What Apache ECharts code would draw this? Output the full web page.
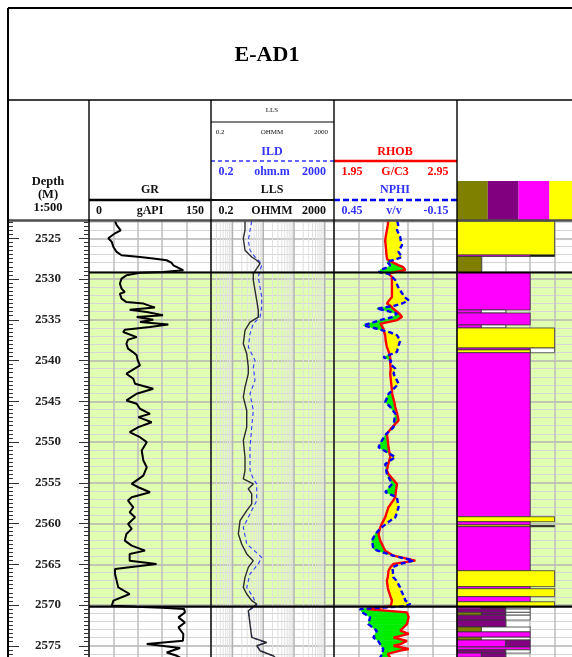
<!DOCTYPE html>
<html>
<head>
<meta charset="utf-8">
<script src="https://cdn.jsdelivr.net/npm/echarts/dist/echarts.min.js"></script>
<style>
html,body{margin:0;padding:0;background:#fff}
#chart{width:572px;height:657px}
</style>
</head>
<body>
<div id="chart"></div>
<script>
// ---- well and depth frame ----
const wellName = 'E-AD1';
const depthRange = [2520, 2580];
const depthStep = 5;
const zoneTop = 2529.2;
const zoneBase = 2570.2;

// ---- gamma ray (gAPI) ----
const grScale = [0, 150];
const grDepth = [
  2522.9, 2523.4, 2524.02, 2524.39, 2525.0, 2525.45, 2526.07, 2526.68, 2527.09, 2527.3,
  2527.49, 2527.7, 2528.03, 2528.32, 2528.72, 2528.93, 2529.14, 2529.24, 2529.55, 2529.95,
  2530.57, 2531.18, 2531.6, 2531.79, 2532.41, 2532.83, 2533.02, 2533.51, 2533.76, 2534.05,
  2534.46, 2534.67, 2534.99, 2535.28, 2535.57, 2535.9, 2536.22, 2536.51, 2537.13, 2537.44,
  2537.94, 2538.55, 2538.97, 2539.37, 2539.99, 2540.6, 2541.62, 2542.24, 2542.85, 2543.46,
  2544.08, 2544.9, 2545.31, 2545.92, 2546.54, 2546.95, 2547.57, 2548.18, 2548.8, 2549.41,
  2550.02, 2551.04, 2552.27, 2553.1, 2554.12, 2555.14, 2555.55, 2556.17, 2556.78, 2557.19,
  2558.01, 2558.62, 2559.24, 2560.05, 2560.66, 2561.28, 2562.1, 2562.71, 2563.33, 2563.73,
  2564.56, 2564.96, 2565.58, 2566.19, 2567.01, 2567.84, 2568.65, 2569.47, 2570.09, 2570.21,
  2570.33, 2570.49, 2570.91, 2571.52, 2572.14, 2572.75, 2573.56, 2574.38, 2574.79, 2575.0,
  2575.28, 2575.82, 2576.23, 2576.47
];
const grValue = [
  32, 34, 39, 32, 23.7, 28, 30, 34, 40, 62.7,
  79, 95.5, 101.7, 103.7, 112, 116, 91, 62.7, 46, 40,
  38, 40, 44, 38, 40, 46, 67, 81, 50, 71,
  91, 58.6, 79, 62.7, 97.5, 75, 44, 42, 58.6, 48,
  46, 48, 54, 58.6, 60, 62.7, 46, 54.5, 56.6, 79,
  58.6, 46, 58.6, 62.7, 75, 60.7, 77, 60.7, 50, 62.7,
  71, 64.8, 66.8, 71, 66.8, 52.5, 60.7, 75, 52.5, 48,
  54.5, 50, 56.6, 48, 52.5, 46, 44, 52.5, 68.9, 50,
  50, 83, 32, 32, 34, 36, 50, 30, 28, 58,
  90, 117, 118, 110, 118, 110, 116, 115.5, 71, 72.5,
  112, 95.5, 108, 112
];

// ---- resistivity (ohm.m) ----
const resScale = [0.2, 2000];
const llsDepth = [
  2522.9, 2524.02, 2525.0, 2526.47, 2527.3, 2527.7, 2528.11, 2528.72, 2529.34, 2530.16,
  2531.39, 2532.62, 2533.85, 2534.67, 2535.28, 2536.3, 2537.94, 2539.16, 2540.81, 2541.62,
  2543.27, 2544.5, 2546.13, 2548.18, 2549.82, 2551.87, 2553.5, 2554.52, 2555.14, 2555.75,
  2556.36, 2557.59, 2558.42, 2559.64, 2561.28, 2562.51, 2563.73, 2564.56, 2565.38, 2566.61,
  2567.84, 2568.65, 2569.47, 2569.88, 2570.09, 2570.7, 2572.33, 2573.98, 2574.6, 2575.0,
  2575.61, 2576.23, 2576.47
];
const llsValue = [
  2.55, 2.55, 2.25, 2.55, 4.22, 6.13, 7.84, 6.13, 4.75, 4.75,
  5.4, 6.13, 6.9, 6.9, 3.71, 2.55, 2.25, 2.9, 3.27, 3.27,
  2.55, 2.25, 2.9, 2.9, 2.25, 2.55, 2.55, 2.25, 4.75, 3.27,
  4.22, 4.22, 2.9, 1.76, 1.55, 1.99, 2.9, 4.75, 3.27, 2.55,
  2.25, 2.9, 4.22, 6.13, 6.9, 3.27, 3.71, 4.22, 12.95, 6.13,
  7.84, 21.2, 25
];
const ildDepth = [
  2522.9, 2524.02, 2525.25, 2526.47, 2527.3, 2527.91, 2528.32, 2528.93, 2529.75, 2530.98,
  2532.21, 2533.44, 2534.67, 2535.48, 2536.71, 2538.35, 2539.99, 2540.81, 2542.44, 2544.08,
  2546.13, 2548.18, 2550.64, 2553.5, 2554.52, 2555.14, 2557.19, 2558.82, 2560.47, 2562.51,
  2564.15, 2564.96, 2566.19, 2567.84, 2569.07, 2570.09, 2570.7, 2572.33, 2573.98, 2574.6,
  2575.0, 2575.61, 2576.23, 2576.47
];
const ildValue = [
  4.22, 3.71, 3.27, 3.71, 5.4, 7.84, 8.91, 7.84, 6.9, 7.84,
  8.91, 8.91, 7.84, 4.75, 3.71, 3.27, 5.4, 4.75, 5.4, 3.71,
  4.75, 4.22, 3.71, 3.71, 4.75, 6.13, 6.13, 3.71, 2.25, 2.9,
  8.91, 6.9, 3.71, 2.9, 4.75, 6.13, 3.27, 3.71, 4.3, 11.5,
  6.3, 8.1, 20, 24
];

// ---- density / neutron ----
const rhobScale = [1.95, 2.95];
const nphiScale = [0.45, -0.15];
const denDepth = [
  2522.9, 2523.4, 2524.0, 2524.85, 2525.35, 2525.85, 2526.45, 2526.7, 2527.3, 2527.6,
  2527.9, 2528.3, 2528.55, 2528.9, 2529.15, 2529.35, 2529.75, 2530.15, 2531.0, 2531.4,
  2532.2, 2532.6, 2533.0, 2533.25, 2533.65, 2533.85, 2534.25, 2534.65, 2534.85, 2535.05,
  2535.5, 2535.7, 2536.1, 2536.55, 2536.9, 2537.55, 2538.35, 2538.95, 2539.6, 2540.0,
  2540.4, 2541.0, 2541.6, 2542.85, 2543.65, 2544.1, 2545.1, 2545.7, 2546.55, 2547.35,
  2548.2, 2549.0, 2549.8, 2550.65, 2551.85, 2552.7, 2553.5, 2553.9, 2555.15, 2556.15,
  2556.8, 2558.0, 2559.25, 2559.65, 2560.45, 2561.3, 2562.1, 2563.1, 2563.35, 2563.95,
  2564.55, 2564.95, 2565.4, 2565.8, 2566.6, 2567.0, 2567.85, 2568.25, 2569.05, 2569.45,
  2569.9, 2570.15, 2570.5, 2570.9, 2571.5, 2572.35, 2573.15, 2573.55, 2574.0, 2574.4,
  2574.8, 2575.0, 2575.4, 2575.6, 2576.0, 2576.45
];
const rhobValue = [
  2.391, 2.387, 2.380, 2.370, 2.366, 2.370, 2.374, 2.374, 2.379, 2.383,
  2.421, 2.472, 2.513, 2.530, 2.448, 2.391, 2.421, 2.421, 2.421, 2.421,
  2.421, 2.399, 2.380, 2.407, 2.432, 2.448, 2.481, 2.503, 2.481, 2.462,
  2.326, 2.334, 2.352, 2.358, 2.366, 2.370, 2.380, 2.395, 2.407, 2.407,
  2.407, 2.411, 2.407, 2.415, 2.421, 2.423, 2.440, 2.448, 2.464, 2.475,
  2.423, 2.380, 2.387, 2.393, 2.407, 2.391, 2.380, 2.391, 2.462, 2.452,
  2.448, 2.393, 2.366, 2.352, 2.326, 2.312, 2.326, 2.358, 2.366, 2.434,
  2.611, 2.434, 2.407, 2.393, 2.387, 2.380, 2.387, 2.393, 2.411, 2.421,
  2.415, 2.407, 2.217, 2.543, 2.557, 2.543, 2.489, 2.557, 2.434, 2.543,
  2.489, 2.434, 2.557, 2.489, 2.387, 2.407
];
const nphiValue = [
  0.141, 0.137, 0.143, 0.127, 0.124, 0.118, 0.132, 0.135, 0.118, 0.151,
  0.192, 0.176, 0.186, 0.225, 0.230, 0.184, 0.166, 0.151, 0.137, 0.127,
  0.107, 0.086, 0.117, 0.151, 0.241, 0.200, 0.143, 0.161, 0.167, 0.225,
  0.283, 0.306, 0.241, 0.176, 0.143, 0.127, 0.137, 0.143, 0.209, 0.171,
  0.176, 0.151, 0.160, 0.135, 0.166, 0.184, 0.200, 0.176, 0.151, 0.156,
  0.160, 0.195, 0.216, 0.233, 0.151, 0.200, 0.195, 0.192, 0.167, 0.200,
  0.143, 0.135, 0.151, 0.176, 0.216, 0.249, 0.265, 0.258, 0.235, 0.161,
  0.062, 0.127, 0.167, 0.163, 0.161, 0.146, 0.127, 0.122, 0.107, 0.102,
  0.078, 0.102, 0.323, 0.313, 0.274, 0.283, 0.241, 0.249, 0.258, 0.235,
  0.225, 0.220, 0.210, 0.209, 0.215, 0.225
];

// ---- lithology column (volume fractions, 0..1 across the track) ----
const lithNames = ['olive', 'purple', 'magenta', 'yellow', 'black', 'white'];
const lithColors = ['#808000', '#800080', '#ff00ff', '#ffff00', '#000000', '#ffffff'];
const lithTop = [
  2522.88, 2527.06, 2527.06, 2527.24, 2529.2, 2533.8, 2533.8, 2534.17, 2535.64, 2535.64,
  2536.01, 2538.47, 2538.47, 2538.7, 2539.05, 2559.17, 2559.78, 2560.18, 2560.25, 2560.39,
  2565.79, 2567.75, 2568.0, 2568.98, 2569.6, 2570.2, 2570.2, 2570.2, 2570.5, 2570.5,
  2570.9, 2570.9, 2570.9, 2571.25, 2571.25, 2571.85, 2572.7, 2572.7, 2573.3, 2573.95,
  2573.95, 2574.3, 2574.3, 2575.15, 2575.5, 2575.5, 2575.9, 2575.9
];
const lithBase = [
  2527.06, 2527.24, 2527.24, 2529.2, 2533.8, 2534.17, 2534.17, 2535.64, 2536.01, 2536.01,
  2538.47, 2538.7, 2539.05, 2539.05, 2559.17, 2559.78, 2560.18, 2560.39, 2560.4, 2565.79,
  2567.75, 2568.0, 2568.98, 2569.6, 2570.2, 2570.5, 2570.5, 2570.5, 2570.9, 2570.9,
  2571.25, 2571.25, 2571.25, 2571.85, 2571.85, 2572.7, 2573.3, 2573.3, 2573.95, 2574.3,
  2574.3, 2575.15, 2575.15, 2575.5, 2575.9, 2575.9, 2576.4, 2576.4
];
const lithFrom = [
  0, 0, 0.6, 0, 0, 0, 0.2, 0, 0, 0.2,
  0, 0, 0.6, 0, 0, 0, 0, 0, 0.6, 0,
  0, 0, 0, 0, 0, 0, 0.2, 0.4, 0, 0.4,
  0, 0.2, 0.4, 0, 0.4, 0, 0, 0.2, 0, 0,
  0.2, 0, 0.4, 0, 0, 0.4, 0, 0.2
];
const lithTo = [
  0.8, 0.6, 0.8, 0.2, 0.6, 0.2, 0.4, 0.6, 0.2, 0.4,
  0.8, 0.6, 0.8, 0.6, 0.6, 0.8, 0.6, 0.6, 0.8, 0.6,
  0.8, 0.6, 0.8, 0.6, 0.8, 0.2, 0.4, 0.6, 0.4, 0.6,
  0.2, 0.4, 0.6, 0.4, 0.6, 0.4, 0.2, 0.6, 0.6, 0.2,
  0.6, 0.4, 0.6, 0.6, 0.4, 0.6, 0.2, 0.4
];
const lithKind = [
  3, 2, 4, 0, 2, 2, 5, 2, 2, 5,
  3, 2, 5, 3, 2, 3, 2, 3, 4, 2,
  3, 2, 3, 2, 3, 2, 1, 5, 1, 5,
  0, 1, 5, 1, 5, 1, 0, 5, 2, 0,
  5, 2, 1, 2, 1, 5, 2, 1
];

// ---- layout ----
const FONT = "'Liberation Serif','Times New Roman',serif";
const plotTop = 197.5, plotHeight = 489;
const trackLeft = [8, 89, 211, 334, 457];
const trackWidth = [81, 122, 123, 123, 122];
const zoneColor = '#e1ffb1';
const sandFill = '#ffff00';
const shaleFill = '#00ee00';

const chart = echarts.init(document.getElementById('chart'));

const hidden = { axisLine: { show: false }, axisTick: { show: false }, axisLabel: { show: false } };

function depthAxis(grid, extra) {
  return Object.assign({
    type: 'value', gridIndex: grid, inverse: true,
    min: depthRange[0], max: depthRange[1], interval: depthStep, z: 2,
    axisLine: { show: false }, axisTick: { show: false }, axisLabel: { show: false },
    splitLine: { show: true, lineStyle: { color: '#b3b3b3', width: 1.5 } },
    minorTick: { show: false, splitNumber: 5 },
    minorSplitLine: { show: true, lineStyle: { color: '#d6d6d6', width: 1 } }
  }, extra || {});
}

// Track fill between the zone boundaries
function zoneFillSeries(xi, yi, xRef) {
  return {
    type: 'custom', xAxisIndex: xi, yAxisIndex: yi, z: 1, silent: true,
    data: [[xRef, zoneTop, zoneBase]], encode: { x: 0, y: [1, 2] },
    renderItem: function (params, api) {
      const cs = params.coordSys;
      const y0 = api.coord([api.value(0), api.value(1)])[1];
      const y1 = api.coord([api.value(0), api.value(2)])[1];
      return { type: 'rect', shape: { x: cs.x, y: y0, width: cs.width, height: y1 - y0 }, style: { fill: zoneColor } };
    }
  };
}
function zoneEdgeSeries(xi, yi, xRef) {
  return {
    type: 'custom', xAxisIndex: xi, yAxisIndex: yi, z: 6, silent: true,
    data: [[xRef, zoneTop, zoneBase]], encode: { x: 0, y: [1, 2] },
    renderItem: function (params, api) {
      const cs = params.coordSys;
      const kids = [1, 2].map(function (k) {
        const y = api.coord([api.value(0), api.value(k)])[1];
        return { type: 'line', shape: { x1: cs.x, y1: y, x2: cs.x + cs.width, y2: y }, style: { stroke: '#000', lineWidth: 2.2 } };
      });
      return { type: 'group', children: kids };
    }
  };
}

// Logarithmic paper for the resistivity track
const logLines = [];
[0.1, 1, 10, 100, 1000].forEach(function (dec) {
  for (let k = 1; k <= 9; k++) {
    const v = +(dec * k).toPrecision(3);
    if (v > resScale[0] && v < resScale[1]) logLines.push(v);
  }
});
const resGridSeries = {
  type: 'custom', xAxisIndex: 2, yAxisIndex: 3, z: 2, silent: true,
  data: [[1, 2550]],
  renderItem: function (params, api) {
    const cs = params.coordSys;
    const kids = logLines.map(function (v) {
      const x = api.coord([v, 2550])[0];
      const major = [1, 10, 100, 1000].indexOf(v) >= 0;
      return { type: 'line', shape: { x1: x, y1: cs.y, x2: x, y2: cs.y + cs.height },
        style: { stroke: major ? '#b3b3b3' : '#e0e0e0', lineWidth: major ? 1.5 : 1 } };
    });
    return { type: 'group', children: kids };
  }
};

// Density-neutron crossover shading
function nphiOnRhobAxis(n) {
  return rhobScale[0] + (nphiScale[0] - n) / (nphiScale[0] - nphiScale[1]) * (rhobScale[1] - rhobScale[0]);
}
const crossoverSeries = {
  type: 'custom', xAxisIndex: 3, yAxisIndex: 4, z: 3, silent: true,
  data: [[2.4, 2550]],
  renderItem: function (params, api) {
    const kids = [];
    function poly(pts, pos) {
      const c = pos ? sandFill : shaleFill;
      kids.push({ type: 'polygon', shape: { points: pts.map(function (p) { return api.coord(p); }) },
        style: { fill: c, stroke: c, lineWidth: 0.6 } });
    }
    for (let i = 0; i < denDepth.length - 1; i++) {
      const d0 = denDepth[i], d1 = denDepth[i + 1];
      const r0 = rhobValue[i], r1 = rhobValue[i + 1];
      const n0 = nphiOnRhobAxis(nphiValue[i]), n1 = nphiOnRhobAxis(nphiValue[i + 1]);
      const s0 = n0 - r0, s1 = n1 - r1;
      if (s0 * s1 >= 0) {
        poly([[r0, d0], [r1, d1], [n1, d1], [n0, d0]], s0 + s1 > 0);
      } else {
        const t = s0 / (s0 - s1);
        const dc = d0 + (d1 - d0) * t, rc = r0 + (r1 - r0) * t;
        poly([[r0, d0], [rc, dc], [n0, d0]], s0 > 0);
        poly([[rc, dc], [r1, d1], [n1, d1]], s1 > 0);
      }
    }
    return { type: 'group', children: kids };
  }
};

const lithData = lithTop.map(function (t, i) { return [lithFrom[i], t, lithTo[i], lithBase[i], lithKind[i]]; });
const lithSeries = {
  type: 'custom', xAxisIndex: 5, yAxisIndex: 5, z: 3, silent: true,
  data: lithData, encode: { x: [0, 2], y: [1, 3] },
  renderItem: function (params, api) {
    const p0 = api.coord([api.value(0), api.value(1)]);
    const p1 = api.coord([api.value(2), api.value(3)]);
    return { type: 'rect', shape: { x: p0[0], y: p0[1], width: p1[0] - p0[0], height: p1[1] - p0[1] },
      style: { fill: lithColors[api.value(4)], stroke: '#333', lineWidth: 0.8 } };
  }
};

function pairs(xs, ds) { return ds.map(function (d, i) { return [xs[i], d]; }); }

// ---- header drawing ----
const G = [];
function line(x1, y1, x2, y2, color, w, dash) {
  G.push({ type: 'line', z: 101, silent: true, shape: { x1: x1, y1: y1, x2: x2, y2: y2 },
    style: { stroke: color, lineWidth: w, lineDash: dash || null } });
}
function text(x, y, s, size, color, bold) {
  G.push({ type: 'text', z: 102, silent: true, x: x, y: y,
    style: { text: s, fill: color, font: (bold ? 'bold ' : '') + size + 'px ' + FONT, align: 'center', verticalAlign: 'middle' } });
}
G.push({ type: 'rect', z: 100, silent: true, shape: { x: 8, y: 100, width: 564, height: 120 }, style: { fill: '#fff' } });
lithColors.slice(0, 4).forEach(function (c, i) {
  G.push({ type: 'rect', z: 101, silent: true, shape: { x: 457 + i * 30.8, y: 181, width: 30.8, height: 39 }, style: { fill: c } });
});
text(267, 55, wellName, 22, '#000', true);
line(8, 8, 572, 8, '#000', 2);
line(8, 100, 572, 100, '#000', 1.5);
line(8, 220.5, 572, 220.5, '#4d4d4d', 2.5);
// depth header
text(48, 182, 'Depth', 12.5, '#111', true);
text(48, 195, '(M)', 12.5, '#111', true);
text(48, 208, '1:500', 12.5, '#111', true);
// gamma ray header
text(150, 190, 'GR', 12, '#111', true);
line(89, 200, 211, 200, '#000', 2.5);
text(99, 211, '0', 12, '#111', true);
text(150, 211, 'gAPI', 12, '#111', true);
text(195, 211, '150', 12, '#111', true);
// resistivity header
line(211, 122, 334, 122, '#000', 1);
text(272, 110, 'LLS', 7, '#111', false);
text(220, 132, '0.2', 7, '#111', false);
text(272, 132, 'OHMM', 7, '#111', false);
text(321, 132, '2000', 7, '#111', false);
text(272, 152, 'ILD', 12, '#3333ff', true);
line(211, 161, 334, 161, '#3333ff', 1.5, [4, 3]);
text(226, 172, '0.2', 12, '#3333ff', true);
text(272, 172, 'ohm.m', 12, '#3333ff', true);
text(314, 172, '2000', 12, '#3333ff', true);
text(272, 190, 'LLS', 12, '#111', true);
line(211, 200, 334, 200, '#111', 2);
text(226, 211, '0.2', 12, '#111', true);
text(272, 211, 'OHMM', 12, '#111', true);
text(314, 211, '2000', 12, '#111', true);
// density / neutron header
text(395, 152, 'RHOB', 12, '#ff0000', true);
line(334, 161, 457, 161, '#ff0000', 2.5);
text(352, 172, '1.95', 12, '#ff0000', true);
text(395, 172, 'G/C3', 12, '#ff0000', true);
text(438, 172, '2.95', 12, '#ff0000', true);
text(395, 190, 'NPHI', 12, '#3333ff', true);
line(334, 200, 457, 200, '#0000ff', 2.5, [6, 3]);
text(352, 211, '0.45', 12, '#3333ff', true);
text(394, 211, 'v/v', 12, '#3333ff', true);
text(436, 211, '-0.15', 12, '#3333ff', true);
// track borders
line(8, 8, 8, 657, '#000', 2);
[89, 211, 334, 457].forEach(function (x) { line(x, 100, x, 657, '#000', 1.4); });

const option = {
  animation: false,
  backgroundColor: '#fff',
  grid: trackLeft.map(function (l, i) {
    return { left: l, top: plotTop, width: trackWidth[i], height: plotHeight, containLabel: false, outerBoundsMode: 'none' };
  }),
  xAxis: [
    Object.assign({ type: 'value', gridIndex: 0, min: 0, max: 1, splitLine: { show: false } }, hidden),
    Object.assign({ type: 'value', gridIndex: 1, min: grScale[0], max: grScale[1], interval: 30, z: 2,
      splitLine: { show: true, lineStyle: { color: '#bdbdbd', width: 1.5 } } }, hidden),
    Object.assign({ type: 'log', gridIndex: 2, min: resScale[0], max: resScale[1], logBase: 10, splitLine: { show: false } }, hidden),
    Object.assign({ type: 'value', gridIndex: 3, min: rhobScale[0], max: rhobScale[1], interval: 0.2, z: 2,
      splitLine: { show: true, lineStyle: { color: '#bdbdbd', width: 1.5 } } }, hidden),
    Object.assign({ type: 'value', gridIndex: 3, min: nphiScale[1], max: nphiScale[0], inverse: true, splitLine: { show: false } }, hidden),
    Object.assign({ type: 'value', gridIndex: 4, min: 0, max: 1, interval: 0.2, z: 2,
      splitLine: { show: true, lineStyle: { color: '#bdbdbd', width: 1.5 } } }, hidden)
  ],
  yAxis: [
    {
      type: 'value', gridIndex: 0, inverse: true, min: depthRange[0], max: depthRange[1], interval: depthStep,
      position: 'left', splitLine: { show: false }, axisLine: { show: false },
      axisTick: { show: true, inside: true, length: 11, lineStyle: { color: '#333', width: 1 } },
      minorTick: { show: true, splitNumber: 10, length: 5, lineStyle: { color: '#333', width: 1 } },
      axisLabel: { show: true, inside: true, margin: 40, align: 'center', color: '#222',
        fontFamily: FONT, fontWeight: 'bold', fontSize: 13, formatter: function (v) { return String(v); } }
    },
    {
      type: 'value', gridIndex: 0, inverse: true, min: depthRange[0], max: depthRange[1], interval: depthStep,
      position: 'right', splitLine: { show: false }, axisLine: { show: false }, axisLabel: { show: false },
      axisTick: { show: true, inside: true, length: 10, lineStyle: { color: '#333', width: 1 } },
      minorTick: { show: true, splitNumber: 10, length: 5, lineStyle: { color: '#333', width: 1 } }
    },
    depthAxis(1), depthAxis(2), depthAxis(3), depthAxis(4)
  ],
  graphic: G,
  series: [
    zoneFillSeries(1, 2, 75), zoneFillSeries(2, 3, 1), zoneFillSeries(3, 4, 2.4), zoneFillSeries(5, 5, 0.5),
    resGridSeries,
    {
      name: 'GR', type: 'line', xAxisIndex: 1, yAxisIndex: 2, z: 4, symbol: 'none', silent: true,
      data: pairs(grValue, grDepth), lineStyle: { color: '#000', width: 2 }
    },
    {
      name: 'ILD', type: 'line', xAxisIndex: 2, yAxisIndex: 3, z: 4, symbol: 'none', silent: true,
      data: pairs(ildValue, ildDepth), lineStyle: { color: '#2a3cff', width: 1.1, type: [4, 3] }
    },
    {
      name: 'LLS', type: 'line', xAxisIndex: 2, yAxisIndex: 3, z: 4, symbol: 'none', silent: true,
      data: pairs(llsValue, llsDepth), lineStyle: { color: '#2b2b2b', width: 1.4 }
    },
    crossoverSeries,
    {
      name: 'RHOB', type: 'line', xAxisIndex: 3, yAxisIndex: 4, z: 5, symbol: 'none', silent: true,
      data: pairs(rhobValue, denDepth), lineStyle: { color: '#ff0000', width: 2.4 }
    },
    {
      name: 'NPHI', type: 'line', xAxisIndex: 4, yAxisIndex: 4, z: 5, symbol: 'none', silent: true,
      data: pairs(nphiValue, denDepth), lineStyle: { color: '#0000ff', width: 2.4, type: [5, 3] }
    },
    lithSeries,
    zoneEdgeSeries(1, 2, 75), zoneEdgeSeries(2, 3, 1), zoneEdgeSeries(3, 4, 2.4), zoneEdgeSeries(5, 5, 0.5)
  ]
};
chart.setOption(option);
</script>
</body>
</html>
